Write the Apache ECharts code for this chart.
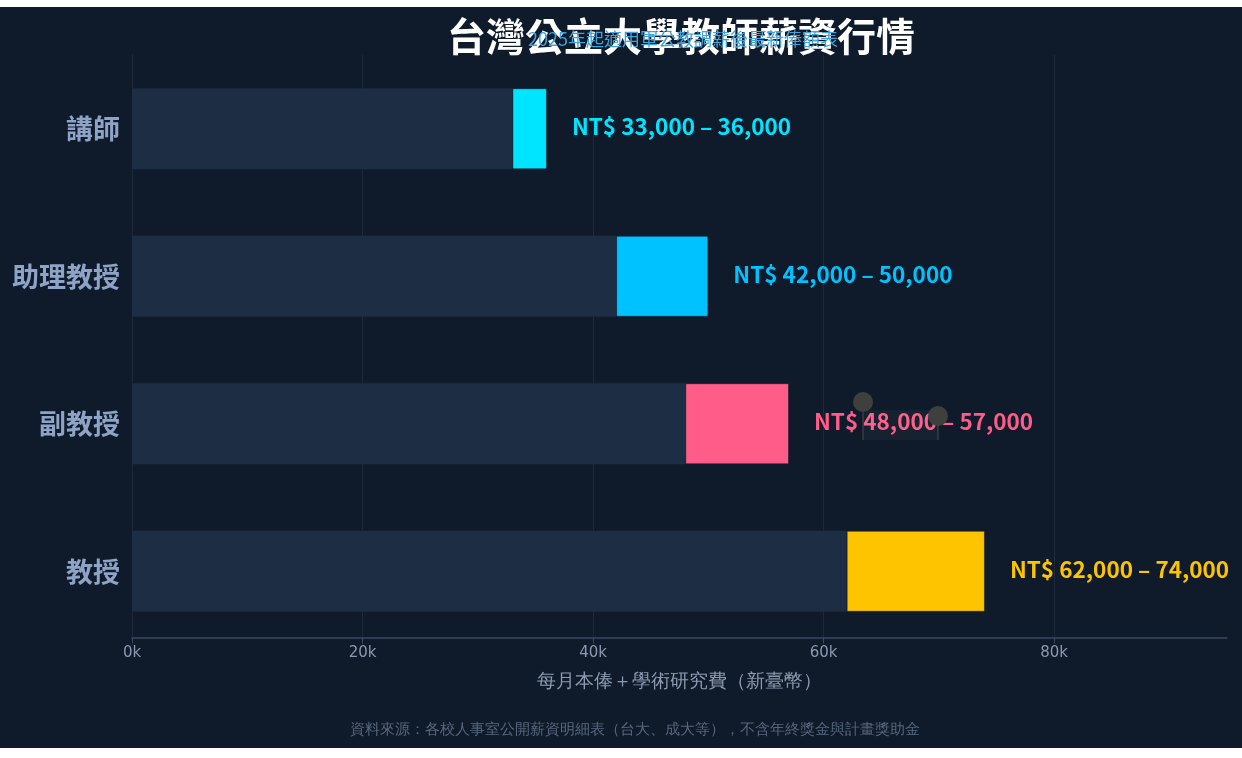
<!DOCTYPE html>
<html>
<head>
<meta charset="utf-8">
<script src="https://cdn.jsdelivr.net/npm/echarts@6/dist/echarts.min.js"></script>
<style>
  html, body { margin: 0; padding: 0; background: #fff; }
  #chart { position: absolute; left: 0; top: 7px; width: 1242px; height: 741px; }
</style>
</head>
<body>
<div id="chart"></div>
<script>
// 職級與薪資區間（每月本俸＋學術研究費）
const ranks = ['講師', '助理教授', '副教授', '教授']
const minPay = [33000, 42000, 48000, 62000]
const maxPay = [36000, 50000, 57000, 74000]
const rankColors = ['#00e5ff', '#00c2ff', '#ff5c8a', '#ffc400']

const cjk = '"Noto Sans CJK TC", "Noto Sans", sans-serif'
const plain = '"DejaVu Sans", sans-serif'

const chart = echarts.init(document.getElementById('chart'))

chart.setOption({
  backgroundColor: '#0f1b2a',
  title: [
    {
      text: '台灣公立大學教師薪資行情',
      left: 676,
      textAlign: 'center',
      top: 5,
      textStyle: { color: '#ffffff', fontSize: 39, fontWeight: 'bold', fontFamily: cjk }
    },
    {
      text: '2025年起適用軍公教調薪後最新俸額表',
      left: 678,
      textAlign: 'center',
      top: 18,
      textStyle: { color: '#3fa3dd', fontSize: 18, fontWeight: 'normal', fontFamily: cjk }
    },
    {
      text: '資料來源：各校人事室公開薪資明細表（台大、成大等），不含年終獎金與計畫獎助金',
      left: 630,
      textAlign: 'center',
      top: 711,
      textStyle: { color: '#56667d', fontSize: 15, fontWeight: 'normal', fontFamily: plain }
    }
  ],
  grid: { left: 132, right: 15, top: 48, bottom: 103, containLabel: false },
  xAxis: {
    type: 'value',
    min: 0,
    max: 95000,
    interval: 20000,
    offset: -7,
    name: '每月本俸＋學術研究費（新臺幣）',
    nameLocation: 'middle',
    nameGap: 35,
    nameTextStyle: { color: '#8b9ab1', fontSize: 19, fontFamily: plain },
    axisLine: { show: true, lineStyle: { color: '#3a4a60', width: 1.5 } },
    axisTick: { show: true, lineStyle: { color: '#3a4a60' } },
    axisLabel: {
      color: '#8b9ab1',
      fontSize: 15,
      fontFamily: plain,
      showMaxLabel: false,
      formatter: v => (v / 1000) + 'k'
    },
    splitLine: { show: true, showMaxLine: false, lineStyle: { color: '#1c2a3c', width: 1 } }
  },
  yAxis: {
    type: 'category',
    data: ranks,
    inverse: true,
    axisLine: { show: true, lineStyle: { color: '#1c2a3c' } },
    axisTick: { show: false },
    axisLabel: { color: '#8fa3c6', fontSize: 27, fontWeight: 'bold', fontFamily: cjk, margin: 12 }
  },
  series: [
    {
      name: '起薪',
      type: 'bar',
      stack: 'pay',
      barWidth: '55%',
      data: minPay,
      itemStyle: { color: '#1d2d43' },
      silent: true
    },
    {
      name: '區間',
      type: 'bar',
      stack: 'pay',
      barWidth: '55%',
      data: maxPay.map((v, i) => ({
        value: v - minPay[i],
        itemStyle: { color: rankColors[i] },
        label: { color: rankColors[i] }
      })),
      itemStyle: { borderColor: 'rgba(15,27,42,0.55)', borderWidth: 1 },
      label: {
        show: true,
        position: 'right',
        distance: 25,
        fontSize: 22.5,
        fontWeight: 'bold',
        fontFamily: cjk,
        offset: [0, -2],
        formatter: p => 'NT$ ' + minPay[p.dataIndex].toLocaleString('en-US') + ' – ' + maxPay[p.dataIndex].toLocaleString('en-US')
      }
    }
  ],
  graphic: [
    { type: 'rect', shape: { x: 863, y: 403, width: 75, height: 30 }, style: { fill: 'rgba(255,255,255,0.03)' }, z: 100 },
    { type: 'line', shape: { x1: 863, y1: 395, x2: 863, y2: 433 }, style: { stroke: '#4a4a48', lineWidth: 1 }, z: 100 },
    { type: 'line', shape: { x1: 938, y1: 409, x2: 938, y2: 433 }, style: { stroke: '#4a4a48', lineWidth: 1 }, z: 100 },
    { type: 'circle', shape: { cx: 863, cy: 395, r: 10 }, style: { fill: '#3f403d' }, z: 101 },
    { type: 'circle', shape: { cx: 938, cy: 409, r: 10 }, style: { fill: '#3f403d' }, z: 101 }
  ]
})
</script>
</body>
</html>
